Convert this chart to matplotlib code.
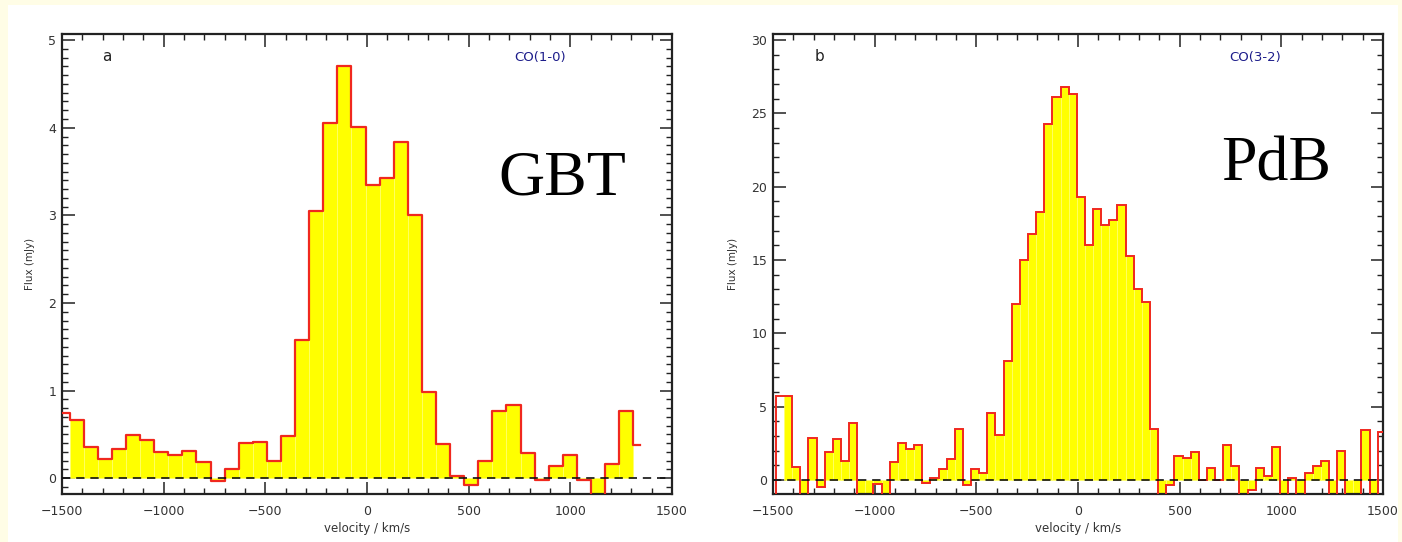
import numpy as np
import matplotlib
matplotlib.use("Agg")
import matplotlib.pyplot as plt
from matplotlib.ticker import MultipleLocator
from matplotlib.patches import Rectangle

# CO(1-0) spectrum, GBT: channel centres start / width (km/s), flux (mJy)
v0_gbt, dv_gbt = -1497.0, 69.3
flux_gbt = [0.74, 0.66, 0.356, 0.216, 0.33, 0.49, 0.44, 0.30, 0.27, 0.31,
            0.18, -0.03, 0.10, 0.40, 0.41, 0.20, 0.48, 1.58, 3.05, 4.05,
            4.70, 4.01, 3.35, 3.43, 3.84, 3.00, 0.98, 0.39, 0.027, -0.076,
            0.197, 0.765, 0.833, 0.29, -0.015, 0.14, 0.27, -0.02, -0.3, 0.167,
            0.77, 0.38]

# CO(3-2) spectrum, PdB: first channel edge / width (km/s), flux (mJy)
e0_pdb, dv_pdb = -1486.0, 40.0
flux_pdb = [5.75, 5.75, 0.88, -2, 2.9, -0.45, 1.93, 2.8, 1.27, 3.9,
            -2, -2, -0.3, -2, 1.25, 2.55, 2.1, 2.4, -0.18, 0.13,
            0.72, 1.45, 3.5, -0.35, 0.72, 0.45, 4.6, 3.1, 8.1, 12.0,
            15.0, 16.75, 18.3, 24.3, 26.1, 26.8, 26.3, 19.3, 16.0, 18.45,
            17.35, 17.75, 18.75, 15.25, 13.05, 12.15, 3.45, -2, -0.33, 1.67,
            1.5, 1.9, 0.0, 0.85, 0.0, 2.4, 0.93, -2, -0.67, 0.85,
            0.27, 2.25, -2, 0.15, -2, 0.5, 0.93, 1.27, -2, 2.0,
            -2, -2, 3.4, -2, 3.25]

YELLOW = "#ffff00"
RED = "#f0281e"
TXT = "#333333"
BLUE = "#1c1c8a"


def style_axes(ax, ymajor, yminor):
    ax.xaxis.set_major_locator(MultipleLocator(500))
    ax.xaxis.set_minor_locator(MultipleLocator(100))
    ax.yaxis.set_major_locator(MultipleLocator(ymajor))
    ax.yaxis.set_minor_locator(MultipleLocator(yminor))
    ax.tick_params(which="both", direction="in", top=True, right=True,
                   color="#222222", labelcolor=TXT, labelsize=9)
    ax.tick_params(which="major", length=9, width=1.1)
    ax.tick_params(which="minor", length=4.5, width=1.0)
    ax.tick_params(axis="x", pad=8)
    ax.tick_params(axis="y", pad=4)
    for s in ax.spines.values():
        s.set_linewidth(1.6)
        s.set_color("#222222")
    ax.axhline(0, color="#111111", lw=1.2, ls=(0, (5, 3.5)), zorder=4)
    ax.set_xlabel("velocity / km/s", fontsize=8.5, color=TXT)
    ax.set_ylabel("Flux (mJy)", fontsize=7.5, color=TXT)
    ax.set_facecolor("white")


fig = plt.figure(figsize=(14.02, 5.42), dpi=100)
fig.patch.set_facecolor("#fffde6")
bg = Rectangle((8 / 1402, 0), 1 - 12 / 1402, 1 - 5 / 542,
               transform=fig.transFigure, facecolor="white",
               edgecolor="none", zorder=-10)
fig.add_artist(bg)

# ---- panel a: GBT ----
ax1 = fig.add_axes([62 / 1402, 48 / 542, 610 / 1402, 460 / 542])
fg = np.array(flux_gbt)
vg = v0_gbt + dv_gbt * np.arange(len(fg))
ax1.bar(vg[1:-1], fg[1:-1], width=dv_gbt, color=YELLOW,
        edgecolor="#ffff70", linewidth=0.5, zorder=2)
ax1.step(vg, fg, where="mid", color=RED, lw=1.6, zorder=3)
ax1.set_xlim(-1500, 1500)
ax1.set_ylim(-0.18, 5.07)
style_axes(ax1, 1, 0.1)
ax1.xaxis.set_label_coords(0.5, -0.061)
ax1.yaxis.set_label_coords(-0.044, 0.5)
ax1.text(0.074, 0.95, "a", transform=ax1.transAxes, fontsize=11,
         color="#222222", ha="center", va="center")
ax1.text(0.784, 0.948, "CO(1-0)", transform=ax1.transAxes, fontsize=9.5,
         color=BLUE, ha="center", va="center")
ax1.text(0.82, 0.683, "GBT", transform=ax1.transAxes, fontsize=46,
         family="Liberation Serif", color="black", ha="center", va="center")

# ---- panel b: PdB ----
ax2 = fig.add_axes([773 / 1402, 48 / 542, 610 / 1402, 460 / 542])
fp = np.array(flux_pdb)
edges = e0_pdb + dv_pdb * np.arange(len(fp) + 1)
vp = edges[:-1] + dv_pdb / 2
ax2.bar(vp[1:-1], fp[1:-1], width=dv_pdb, color=YELLOW,
        edgecolor="#ffff70", linewidth=0.5, zorder=2)
ax2.stairs(fp, edges, baseline=-5, color=RED, lw=1.4, zorder=3)
ax2.set_xlim(-1500, 1500)
ax2.set_ylim(-0.95, 30.4)
style_axes(ax2, 5, 1)
ax2.xaxis.set_label_coords(0.5, -0.061)
ax2.yaxis.set_label_coords(-0.057, 0.5)
ax2.text(0.077, 0.95, "b", transform=ax2.transAxes, fontsize=11,
         color="#222222", ha="center", va="center")
ax2.text(0.79, 0.948, "CO(3-2)", transform=ax2.transAxes, fontsize=9.5,
         color=BLUE, ha="center", va="center")
ax2.text(0.825, 0.715, "PdB", transform=ax2.transAxes, fontsize=46,
         family="Liberation Serif", color="black", ha="center", va="center")

fig.savefig("out.png", dpi=100, facecolor=fig.get_facecolor())
